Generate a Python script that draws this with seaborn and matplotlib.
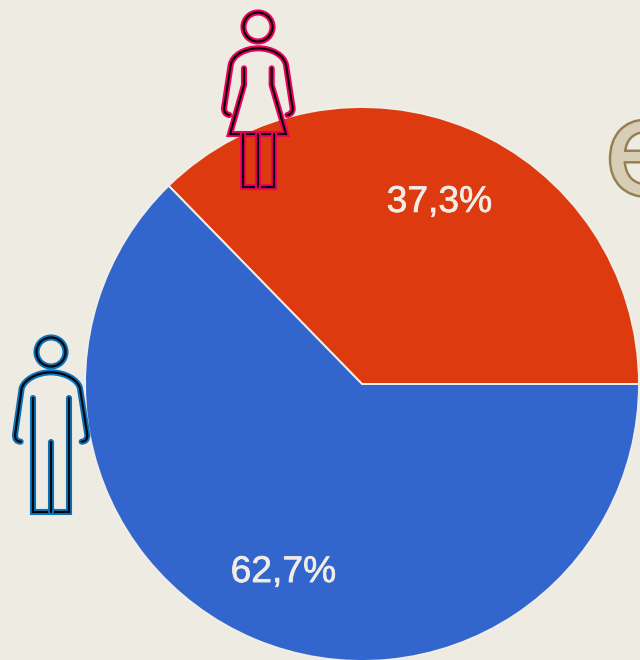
import seaborn as sns
import matplotlib
matplotlib.use("Agg")
import matplotlib.pyplot as plt
import matplotlib.patheffects as pe
from matplotlib.path import Path
from matplotlib.patches import PathPatch, Circle

# values
genders = ["Mujeres", "Hombres"]
shares = [37.3, 62.7]
slice_colors = ["#DE3A0F", "#3366CC"]

BG = "#EEEBE3"
W, H = 640, 660

sns.set_theme(style="white", rc={"figure.facecolor": BG, "axes.facecolor": BG})
plt.rcParams["font.family"] = ["Liberation Sans", "DejaVu Sans"]


def fmt_pct(p):
    return f"{p:.1f}%".replace(".", ",")


def stroke(ax, verts, codes, color):
    # verts are in picture pixels, y going down
    pts = [(x, H - y) for x, y in verts]
    for c, lw in [(color, 4.4), ("#06060f", 1.6)]:
        ax.add_patch(PathPatch(Path(pts, codes), fc="none", ec=c, lw=lw,
                               capstyle="round", joinstyle="miter", zorder=5))


def head(ax, x, y, color):
    for c, lw in [(color, 4.4), ("#06060f", 1.6)]:
        ax.add_patch(Circle((x, H - y), 14.5, fc="none", ec=c, lw=lw, zorder=5))


def z(x, y, ox, oy):
    # from zoomed crop coordinates to picture pixels
    return (ox + x / 3, oy + y / 3)


def arms(ax, pts, ox, oy, color):
    verts = [z(*p, ox, oy) for p in pts]
    codes = [Path.MOVETO, Path.CURVE3, Path.CURVE3, Path.LINETO, Path.CURVE4, Path.CURVE4,
             Path.CURVE4, Path.CURVE4, Path.CURVE4, Path.CURVE4, Path.LINETO, Path.CURVE3, Path.CURVE3]
    stroke(ax, verts, codes, color)


def poly(ax, pts, ox, oy, color):
    verts = [z(*p, ox, oy) for p in pts]
    codes = [Path.MOVETO] + [Path.LINETO] * (len(verts) - 1)
    stroke(ax, verts, codes, color)


fig = plt.figure(figsize=(W / 100, H / 100), dpi=100)
ax = fig.add_axes([0, 0, 1, 1])

wedges, _, autotexts = ax.pie(
    shares, colors=slice_colors, startangle=0, counterclock=True,
    center=(362, H - 384), radius=277, frame=True,
    autopct=fmt_pct, pctdistance=0.725,
    wedgeprops={"edgecolor": "#F1EEE8", "linewidth": 1.4},
    textprops={"color": "#F1ECE6", "fontsize": 26.8},
)
for t in autotexts:
    x, y = t.get_position()
    t.set_position((x - 0.5, y - 3.5))
    t.set_path_effects([pe.withStroke(linewidth=0.5, foreground="#F1ECE6")])
ax.set_xlim(0, W)
ax.set_ylim(0, H)
ax.set_aspect("auto")
ax.axis("off")

# woman
ox, oy = 200, 0
pink = "#F0005A"
head(ax, 258, 27, pink)
arms(ax, [(88, 345), (72, 342), (72, 325), (92, 195), (98, 165), (135, 145), (175, 145),
          (215, 145), (252, 165), (258, 195), (278, 325), (278, 342), (262, 345)], ox, oy, pink)
poly(ax, [(132, 205), (132, 255), (90, 402), (258, 402), (215, 255), (215, 205)], ox, oy, pink)
poly(ax, [(128, 402), (128, 562), (222, 562), (222, 402)], ox, oy, pink)
poly(ax, [(175, 402), (175, 562)], ox, oy, pink)

# man
ox, oy = 0, 325
blue = "#0A72B8"
head(ax, 51, 352, blue)
arms(ax, [(62, 350), (45, 350), (45, 330), (65, 190), (72, 165), (110, 142), (153, 142),
          (195, 142), (235, 165), (240, 190), (262, 330), (262, 350), (245, 350)], ox, oy, blue)
poly(ax, [(100, 218), (100, 560), (207, 560), (207, 218)], ox, oy, blue)
poly(ax, [(153, 352), (153, 560)], ox, oy, blue)

# clipped title letter at the right edge
ax.text(604, H - 194, "e", fontsize=94, family="DejaVu Sans",
        color="#D8CDB6", ha="left", va="baseline", zorder=4,
        path_effects=[pe.withStroke(linewidth=3.5, foreground="#94804F")])

fig.savefig("out.png", dpi=100, facecolor=BG)
plt.close(fig)
